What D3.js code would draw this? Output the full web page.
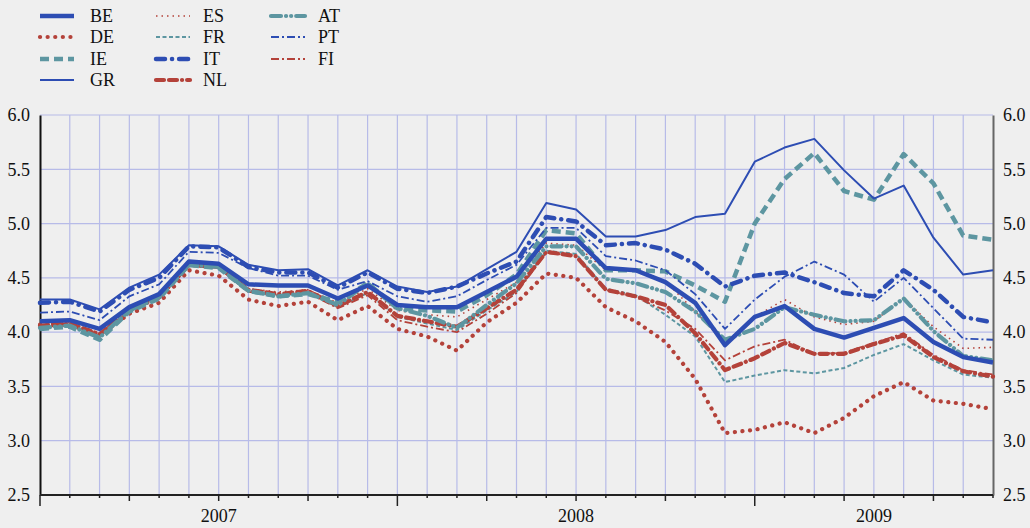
<!DOCTYPE html>
<html>
<head>
<meta charset="utf-8">
<script src="https://cdn.jsdelivr.net/npm/d3@7"></script>
<style>
  html, body { margin: 0; padding: 0; background: #efefef; }
  svg { display: block; }
  svg text { font-family: "Liberation Serif", "Times New Roman", serif; }
</style>
</head>
<body>
<svg id="chart" width="1030" height="528"></svg>
<script>
// ---- data ----
const months = ["2007-01","2007-02","2007-03","2007-04","2007-05","2007-06","2007-07","2007-08","2007-09","2007-10","2007-11","2007-12",
  "2008-01","2008-02","2008-03","2008-04","2008-05","2008-06","2008-07","2008-08","2008-09","2008-10","2008-11","2008-12",
  "2009-01","2009-02","2009-03","2009-04","2009-05","2009-06","2009-07","2009-08","2009-09"];
const years = ["2007", "2008", "2009"];
const yTicks = [2.5, 3.0, 3.5, 4.0, 4.5, 5.0, 5.5, 6.0];

const BE = [4.10,4.11,4.03,4.23,4.35,4.65,4.63,4.44,4.43,4.43,4.31,4.43,4.25,4.23,4.23,4.37,4.51,4.86,4.86,4.59,4.57,4.46,4.27,3.88,4.14,4.24,4.03,3.95,4.04,4.13,3.91,3.77,3.72];
const DE = [4.07,4.07,3.97,4.17,4.27,4.57,4.52,4.30,4.24,4.28,4.11,4.24,4.03,3.96,3.83,4.09,4.27,4.54,4.50,4.23,4.10,3.91,3.57,3.07,3.10,3.17,3.07,3.21,3.41,3.54,3.37,3.34,3.29];
const IE = [4.03,4.05,3.93,4.19,4.31,4.62,4.59,4.38,4.33,4.35,4.28,4.45,4.22,4.20,4.19,4.34,4.53,4.94,4.91,4.57,4.57,4.56,4.43,4.28,5.00,5.41,5.65,5.30,5.22,5.64,5.37,4.89,4.85];
const GR = [4.30,4.30,4.21,4.41,4.53,4.80,4.79,4.62,4.57,4.58,4.43,4.57,4.42,4.37,4.42,4.58,4.74,5.19,5.13,4.88,4.88,4.94,5.06,5.09,5.57,5.70,5.78,5.49,5.23,5.35,4.87,4.53,4.57];
const ES = [4.07,4.09,3.99,4.21,4.33,4.63,4.61,4.40,4.37,4.39,4.27,4.40,4.20,4.16,4.14,4.30,4.46,4.82,4.80,4.57,4.57,4.47,4.19,3.90,4.14,4.30,4.14,4.07,4.10,4.31,4.05,3.85,3.86];
const FR = [4.05,4.06,3.97,4.20,4.32,4.62,4.60,4.38,4.34,4.36,4.23,4.36,4.14,4.08,4.02,4.20,4.37,4.75,4.72,4.40,4.34,4.16,3.96,3.54,3.60,3.65,3.62,3.67,3.79,3.89,3.74,3.61,3.58];
const IT = [4.27,4.28,4.19,4.39,4.50,4.79,4.78,4.60,4.55,4.55,4.41,4.55,4.40,4.36,4.42,4.54,4.65,5.06,5.02,4.80,4.82,4.76,4.63,4.42,4.52,4.55,4.46,4.36,4.33,4.57,4.39,4.14,4.09];
const NL = [4.06,4.08,3.98,4.20,4.32,4.62,4.60,4.39,4.35,4.38,4.24,4.37,4.15,4.10,4.05,4.22,4.39,4.74,4.70,4.39,4.33,4.25,3.99,3.65,3.76,3.90,3.80,3.80,3.89,3.97,3.77,3.64,3.59];
const AT = [4.04,4.06,3.95,4.20,4.32,4.62,4.60,4.38,4.33,4.36,4.25,4.45,4.22,4.15,4.04,4.25,4.45,4.79,4.79,4.49,4.45,4.37,4.19,3.93,4.03,4.23,4.16,4.10,4.11,4.31,4.01,3.78,3.74];
const PT = [4.18,4.19,4.11,4.33,4.44,4.74,4.73,4.59,4.52,4.52,4.39,4.47,4.33,4.28,4.33,4.48,4.62,4.96,4.96,4.70,4.66,4.57,4.35,4.03,4.30,4.51,4.65,4.53,4.28,4.50,4.22,3.94,3.93];
const FI = [4.05,4.06,3.97,4.19,4.31,4.61,4.59,4.37,4.34,4.36,4.22,4.34,4.11,4.05,4.00,4.17,4.36,4.73,4.70,4.39,4.32,4.20,4.03,3.74,3.87,3.93,3.80,3.81,3.90,3.99,3.79,3.65,3.61];

const countries = ["BE","DE","IE","GR","ES","FR","IT","NL","AT","PT","FI"];
const values = {BE, DE, IE, GR, ES, FR, IT, NL, AT, PT, FI};

// ---- styles ----
const BLUE = "#2d4db3", RED = "#b4423a", TEAL = "#5d96a1";
const FONT = "Liberation Serif, Times New Roman, serif";
const styles = {
  BE: {c: BLUE, w: 4.5, d: null, cap: "butt"},
  DE: {c: RED,  w: 4.2, d: "0.1 7.5", cap: "round"},
  IE: {c: TEAL, w: 4.5, d: "9 5", cap: "butt"},
  GR: {c: BLUE, w: 2, d: null, cap: "butt"},
  ES: {c: RED,  w: 1.6, d: "1.5 4", cap: "butt"},
  FR: {c: TEAL, w: 2, d: "4 2.5", cap: "butt"},
  IT: {c: BLUE, w: 4.5, d: "9 7 0.1 7", cap: "round"},
  NL: {c: RED,  w: 4.2, d: "8 5 8 5 0.1 5", cap: "round"},
  AT: {c: TEAL, w: 4.2, d: "10 5 0.1 5 0.1 5", cap: "round"},
  PT: {c: BLUE, w: 1.8, d: "8 3 2 3", cap: "butt"},
  FI: {c: RED,  w: 1.8, d: "8 3 2 3", cap: "butt"}
};

// ---- layout ----
const svg = d3.select("#chart");
const L = 40, R = 993, T = 115, B = 495;
const x = d3.scaleLinear().domain([0, months.length - 1]).range([L, R]);
const y = d3.scaleLinear().domain([2.5, 6.0]).range([B, T]);
const idx = d3.range(months.length);

svg.append("rect").attr("width", 1030).attr("height", 528).attr("fill", "#efefef");

// grid
const grid = svg.append("g").attr("stroke", "#b7bbe8").attr("stroke-width", 1.2);
grid.selectAll("line.v").data(idx.slice(1, -1)).join("line")
  .attr("x1", d => x(d)).attr("x2", d => x(d)).attr("y1", T).attr("y2", B);
grid.selectAll("line.h").data(yTicks).join("line")
  .attr("x1", L).attr("x2", R).attr("y1", d => y(d)).attr("y2", d => y(d));

// y axes
const fmt = d3.format(".1f");
const yl = svg.append("g").attr("transform", `translate(${L},0)`)
  .call(d3.axisLeft(y).tickValues(yTicks).tickSize(0).tickPadding(10).tickFormat(fmt));
const yr = svg.append("g").attr("transform", `translate(${R},0)`)
  .call(d3.axisRight(y).tickValues(yTicks).tickSize(0).tickPadding(10).tickFormat(fmt));
[yl, yr].forEach(g => {
  g.attr("font-family", FONT);
  g.selectAll("text").attr("font-size", 18).attr("fill", "#111").attr("font-family", FONT);
});
yl.select(".domain").attr("stroke", "#111").attr("stroke-width", 2);
yr.select(".domain").attr("stroke", "#666").attr("stroke-width", 2);

// bottom axis
svg.append("line").attr("x1", L).attr("x2", R).attr("y1", B).attr("y2", B)
  .attr("stroke", "#222").attr("stroke-width", 2);
svg.append("g").selectAll("line").data(idx).join("line")
  .attr("x1", d => x(d)).attr("x2", d => x(d)).attr("y1", B)
  .attr("y2", d => B + (d % 12 === 0 ? 11 : d % 3 === 0 ? 6 : 3))
  .attr("stroke", "#222").attr("stroke-width", 1.5);
const yearStarts = [0, 12, 24, months.length - 1];
svg.append("g").selectAll("text").data(years).join("text")
  .attr("x", (d, i) => (x(yearStarts[i]) + x(yearStarts[i + 1])) / 2)
  .attr("y", 522).attr("text-anchor", "middle").attr("font-size", 18).attr("fill", "#111")
  .attr("font-family", FONT)
  .text(d => d);

// lines
const line = d3.line().x((d, i) => x(i)).y(d => y(d));
const drawOrder = ["DE","ES","FR","FI","NL","AT","IE","PT","GR","IT","BE"];
svg.append("g").selectAll("path").data(drawOrder).join("path")
  .attr("d", k => line(values[k]))
  .attr("fill", "none")
  .attr("stroke", k => styles[k].c)
  .attr("stroke-width", k => styles[k].w)
  .attr("stroke-dasharray", k => styles[k].d)
  .attr("stroke-linecap", k => styles[k].cap)
  .attr("stroke-linejoin", "round");

// legend
const legCols = [{lx: 40, tx: 90}, {lx: 156, tx: 203}, {lx: 271, tx: 318}];
const legRows = [16, 37, 59, 80];
const leg = svg.append("g").selectAll("g").data(countries).join("g")
  .attr("transform", (k, i) => `translate(${legCols[Math.floor(i / 4)].lx},${legRows[i % 4]})`);
leg.append("line").attr("x1", 0).attr("x2", 34).attr("y1", 0).attr("y2", 0)
  .attr("stroke", k => styles[k].c)
  .attr("stroke-width", k => styles[k].w)
  .attr("stroke-dasharray", k => styles[k].d)
  .attr("stroke-linecap", k => styles[k].cap);
leg.append("text")
  .attr("x", (k, i) => legCols[Math.floor(i / 4)].tx - legCols[Math.floor(i / 4)].lx)
  .attr("y", 6).attr("font-size", 18).attr("fill", "#111")
  .attr("font-family", FONT)
  .text(k => k);
</script>
</body>
</html>
